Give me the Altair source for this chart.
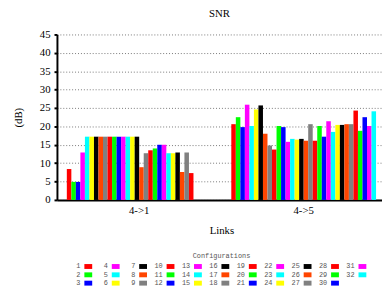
import altair as alt
import pandas as pd

links = ["4->1", "4->5"]
configs = [str(i) for i in range(1, 33)]

# SNR values (dB) per configuration
snr_4_1 = [8.4, 4.9, 4.9, 12.9, 17.2, 17.2, 17.2, 17.2, 17.2, 17.2, 17.2, 17.2,
           17.2, 17.2, 17.2, 17.2, 8.9, 12.7, 13.5, 14.0, 15.0, 15.0, 12.7, 12.7,
           12.9, 7.6, 12.9, 7.3]
snr_4_5 = [20.6, 22.5, 19.8, 25.9, 20.1, 24.6, 25.7, 18.0, 14.8, 13.7, 20.1, 19.8,
           15.8, 16.6, 16.4, 16.6, 16.1, 20.6, 16.1, 20.1, 17.2, 21.4, 18.5, 20.4,
           20.4, 20.6, 20.6, 24.3, 18.8, 22.5, 20.1, 24.1]

palette = ["#ff0000", "#00ff00", "#0000ff", "#ff00ff", "#00ffff",
           "#ffff00", "#000000", "#ff4500", "#808080"]
legend_title = "Configurations"

rows = []
for link, vals in zip(links, [snr_4_1, snr_4_5]):
    for i, v in enumerate(vals):
        rows.append({"Link": link, "Config": configs[i], "SNR": v})
df = pd.DataFrame(rows)

config_colors = [palette[i % 9] for i in range(32)]
color_scale = alt.Scale(domain=configs, range=config_colors)

# legend grid: 3 rows, filled column by column
legend_df = pd.DataFrame({
    "Config": configs,
    "col": [i // 3 for i in range(32)],
    "row": [i % 3 for i in range(32)],
})
title_df = pd.DataFrame({"col": [4.86], "row": [-1.25], "label": [legend_title]})

lx = alt.Scale(domain=[0, 10], range=[32, 312])
ly = alt.Scale(domain=[0, 2], range=[237, 254])

bars = alt.Chart(df).mark_bar(strokeWidth=0).encode(
    x=alt.X("Link:N", sort=links,
            scale=alt.Scale(paddingInner=0.12, paddingOuter=0.06, range=[0, 336]),
            axis=alt.Axis(title="Links", labelAngle=0, ticks=False, domainColor="black",
                          domainWidth=2, labelFont="Liberation Serif", labelFontSize=11,
                          labelColor="black", labelPadding=5, titleFont="Liberation Serif",
                          titleFontSize=11, titleFontWeight="normal", titleColor="black",
                          titlePadding=9)),
    xOffset=alt.XOffset("Config:N", scale=alt.Scale(domain=configs, paddingInner=0, paddingOuter=0)),
    y=alt.Y("SNR:Q", scale=alt.Scale(domain=[0, 45], nice=False),
            axis=alt.Axis(title="(dB)", values=list(range(0, 50, 5)), grid=True,
                          gridDash=[1, 2], gridColor="#777", gridWidth=1,
                          domainColor="black", domainWidth=2, tickColor="black",
                          tickWidth=2, tickSize=3, labelPadding=4,
                          labelFont="Liberation Serif", labelFontSize=11, labelColor="black",
                          titleFont="Liberation Serif", titleFontSize=11,
                          titleFontWeight="normal", titleColor="black", titlePadding=16)),
    color=alt.Color("Config:N", scale=color_scale, legend=None),
)

swatches = alt.Chart(legend_df).mark_point(
    shape="M-1,-0.625H1V0.625H-1Z", size=64, filled=True, opacity=1, strokeWidth=0
).encode(
    x=alt.X("col:Q", scale=lx, axis=None),
    y=alt.Y("row:Q", scale=ly, axis=None),
    color=alt.Color("Config:N", scale=color_scale, legend=None),
)

labels = alt.Chart(legend_df).mark_text(
    align="right", baseline="middle", dx=-8, font="Liberation Mono", fontSize=7,
    color="#555"
).encode(
    x=alt.X("col:Q", scale=lx, axis=None),
    y=alt.Y("row:Q", scale=ly, axis=None),
    text="Config:N",
)

ltitle = alt.Chart(title_df).mark_text(
    align="center", baseline="middle", font="Liberation Mono", fontSize=7, color="#555"
).encode(
    x=alt.X("col:Q", scale=lx, axis=None),
    y=alt.Y("row:Q", scale=ly, axis=None),
    text="label:N",
)

chart = alt.layer(bars, swatches, labels, ltitle).resolve_scale(
    x="independent", y="independent"
).properties(
    width=332, height=169,
    title=alt.Title("SNR", font="Liberation Serif", fontSize=11, fontWeight="normal",
                    color="black", offset=10),
    autosize=alt.AutoSizeParams(type="none"),
    padding={"left": 50, "top": 24, "right": 0, "bottom": 90},
).configure_view(stroke=None)

chart.save("out.html", embed_options={"renderer": "svg", "actions": False})
